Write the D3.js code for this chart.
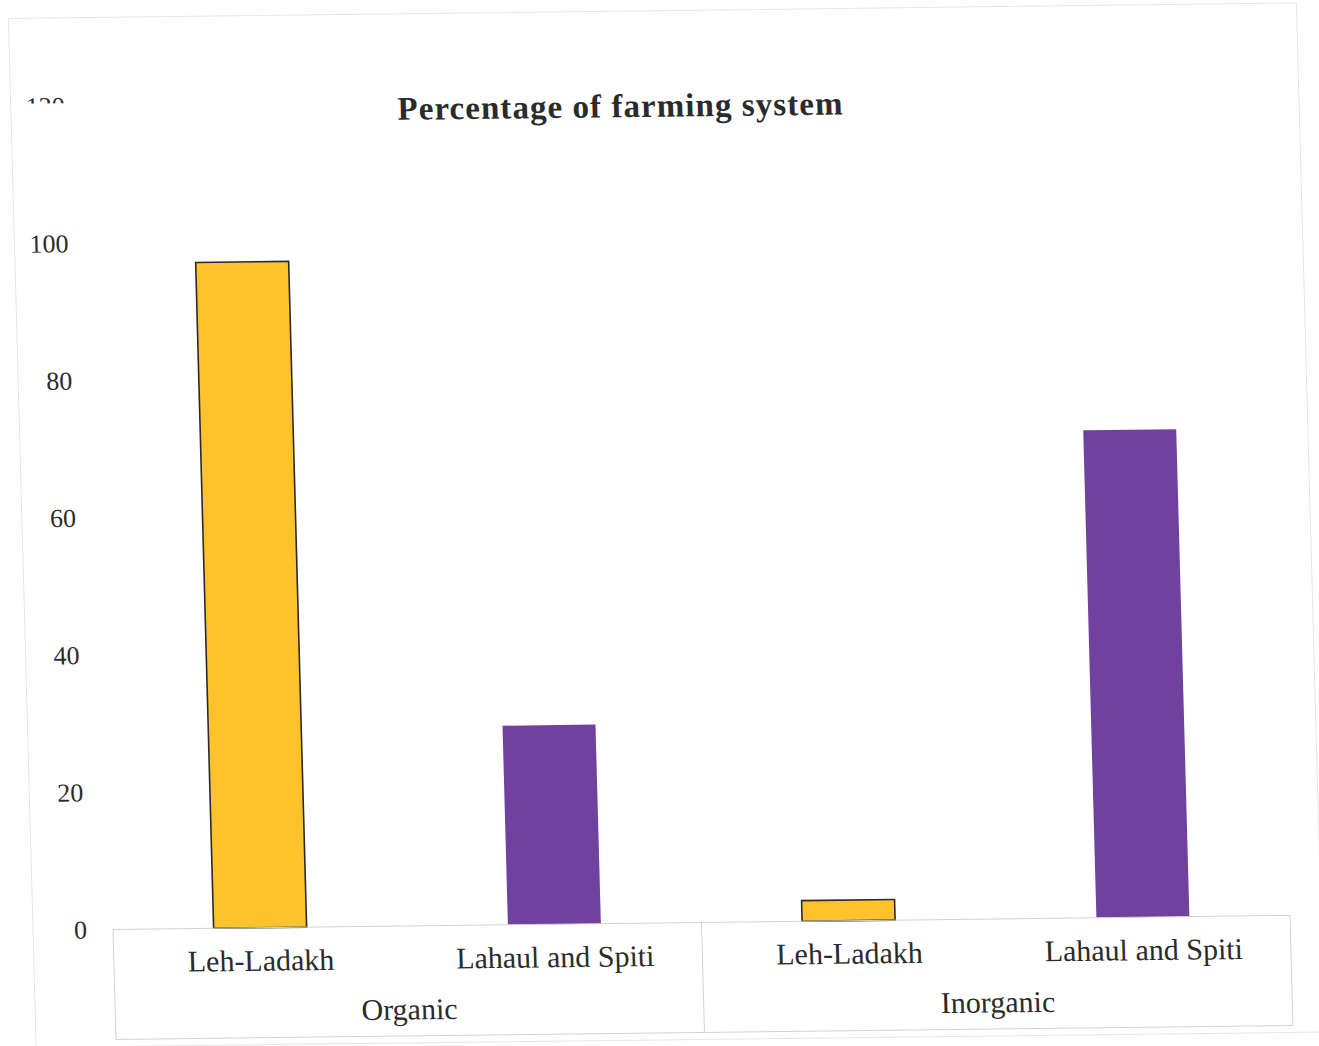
<!DOCTYPE html>
<html>
<head>
<meta charset="utf-8">
<script src="https://cdn.jsdelivr.net/npm/d3@7"></script>
<style>
  html, body { margin: 0; padding: 0; background: #ffffff; }
  svg { display: block; }
  text { font-family: "Liberation Serif", "DejaVu Serif", serif; fill: #2b2b2b; }
</style>
</head>
<body>
<svg id="chart" width="1319" height="1046"></svg>
<script>
// Farming system shares (%) by region
const groups = ["Organic", "Inorganic"];
const regions = ["Leh-Ladakh", "Lahaul and Spiti"];
const organicValues = [97, 29];
const inorganicValues = [3, 71];
const yTicks = [0, 20, 40, 60, 80, 100, 120];
const titleText = "Percentage of farming system";

const seriesByGroup = { "Organic": organicValues, "Inorganic": inorganicValues };
const rows = [];
groups.forEach(g => regions.forEach((r, i) => rows.push({ group: g, region: r, value: seriesByGroup[g][i] })));

const fillFor = { "Leh-Ladakh": "#FDC22C", "Lahaul and Spiti": "#7141A0" };

const svg = d3.select("#chart");
svg.append("rect").attr("width", 1319).attr("height", 1046).attr("fill", "#ffffff");

// The printed page sits slightly sheared/tilted; the plot is drawn in its own frame
const g = svg.append("g")
  .attr("transform", "matrix(1,-0.012,0.027,1,113,929.5)");

const plotW = 1177;
const plotH = 823.7;

const x = d3.scaleBand()
  .domain(rows.map(d => d.group + "|" + d.region))
  .range([0, plotW])
  .paddingInner(0.684)
  .paddingOuter(0.342);

const y = d3.scaleLinear().domain([0, 120]).range([0, -plotH]);

// y axis labels
const yAxis = d3.axisLeft(y).tickValues(yTicks).tickSize(0).tickPadding(26);
const ya = g.append("g").call(yAxis);
ya.select(".domain").remove();
ya.selectAll("text")
  .attr("font-size", 26)
  .attr("font-family", "\"Liberation Serif\", \"DejaVu Serif\", serif")
  .attr("fill", "#2b2b2b");

// title block (its backdrop overlaps the top tick label)
g.append("rect")
  .attr("x", -72).attr("y", y(120) - 3)
  .attr("width", 60).attr("height", 40)
  .attr("fill", "#ffffff");

// outer chart frame
g.append("rect")
  .attr("x", -80).attr("y", -912)
  .attr("width", 1288).attr("height", 1029)
  .attr("fill", "none").attr("stroke", "#e6e6e6").attr("stroke-width", 1);

g.append("text")
  .attr("x", 529).attr("y", -806)
  .attr("text-anchor", "middle")
  .attr("font-size", 33)
  .attr("font-weight", "bold")
  .attr("textLength", 445)
  .attr("lengthAdjust", "spacing")
  .text(titleText);

// bars
g.selectAll("rect.bar")
  .data(rows)
  .join("rect")
  .attr("class", "bar")
  .attr("x", d => x(d.group + "|" + d.region))
  .attr("y", d => y(d.value))
  .attr("width", x.bandwidth())
  .attr("height", d => -y(d.value))
  .attr("fill", d => fillFor[d.region])
  .attr("stroke", d => d.region === "Leh-Ladakh" ? "#2a2a2a" : "none")
  .attr("stroke-width", 1.6);

// category table below the plot
const tableH = 110;
const tbl = g.append("g").attr("stroke", "#d2d2d2").attr("stroke-width", 1).attr("fill", "none");
tbl.append("line").attr("x1", 0).attr("x2", plotW).attr("y1", 0).attr("y2", 0);
tbl.append("line").attr("x1", 0).attr("x2", plotW).attr("y1", tableH).attr("y2", tableH);
[0, plotW / 2, plotW].forEach(px => {
  tbl.append("line").attr("x1", px).attr("x2", px).attr("y1", 0).attr("y2", tableH);
});

g.selectAll("text.cat")
  .data(rows)
  .join("text")
  .attr("class", "cat")
  .attr("x", d => x(d.group + "|" + d.region) + x.bandwidth() / 2)
  .attr("y", 43)
  .attr("text-anchor", "middle")
  .attr("font-size", 30)
  .text(d => d.region);

g.selectAll("text.grp")
  .data(groups)
  .join("text")
  .attr("class", "grp")
  .attr("x", (d, i) => (i + 0.5) * plotW / groups.length)
  .attr("y", 93.5)
  .attr("text-anchor", "middle")
  .attr("font-size", 30)
  .text(d => d);
</script>
</body>
</html>
